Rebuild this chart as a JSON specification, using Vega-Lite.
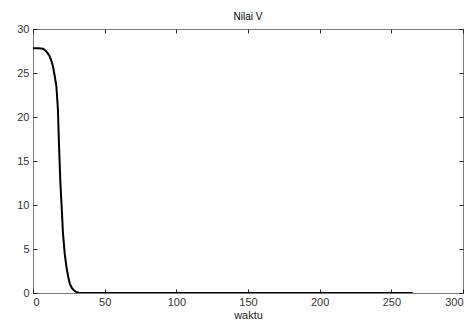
{
  "$schema": "https://vega.github.io/schema/vega-lite/v6.json",
  "width": 430,
  "height": 264,
  "autosize": "none",
  "padding": {"left": 33, "top": 29, "right": 8, "bottom": 27},
  "title": {"text": "Nilai V", "fontSize": 10, "font": "Liberation Sans", "fontWeight": "normal", "color": "#000000", "offset": 1},
  "config": {
    "view": {"stroke": "#7a7a7a", "strokeWidth": 1},
    "axis": {"grid": false, "labelFont": "Liberation Sans", "titleFont": "Liberation Sans", "labelFontSize": 11, "labelColor": "#333333", "domainColor": "#7a7a7a", "tickColor": "#222222", "tickSize": -4, "titleFontWeight": "normal", "titleFontSize": 11, "titleColor": "#222222"}
  },
  "data": {"values": [
    {"t": 0, "v": 27.8}, {"t": 4, "v": 27.8}, {"t": 7, "v": 27.75}, {"t": 9, "v": 27.5},
    {"t": 10.5, "v": 27.2}, {"t": 11.6, "v": 26.9}, {"t": 13, "v": 26.3}, {"t": 14, "v": 25.7},
    {"t": 15, "v": 24.8}, {"t": 16.3, "v": 23.5}, {"t": 16.8, "v": 22.3}, {"t": 17.4, "v": 20.8},
    {"t": 18.1, "v": 17}, {"t": 19.1, "v": 12.5}, {"t": 20, "v": 9.8}, {"t": 20.9, "v": 6.8},
    {"t": 22.1, "v": 4.5}, {"t": 23.3, "v": 3.0}, {"t": 24.5, "v": 1.9}, {"t": 25.6, "v": 1.1},
    {"t": 27, "v": 0.6}, {"t": 28.5, "v": 0.3}, {"t": 30, "v": 0.12}, {"t": 32, "v": 0.03},
    {"t": 35, "v": 0}, {"t": 100, "v": 0}, {"t": 200, "v": 0}, {"t": 265, "v": 0}
  ]},
  "resolve": {"axis": {"x": "independent", "y": "independent"}},
  "layer": [
    {
      "mark": {"type": "line", "color": "#000000", "strokeWidth": 2, "clip": true},
      "encoding": {
        "x": {"field": "t", "type": "quantitative", "scale": {"domain": [0, 300], "nice": false},
          "axis": {"orient": "bottom", "values": [0, 50, 100, 150, 200, 250, 300], "title": "waktu", "labelPadding": 7, "titlePadding": 2, "domain": false}},
        "y": {"field": "v", "type": "quantitative", "scale": {"domain": [0, 30], "nice": false, "zero": false},
          "axis": {"orient": "left", "values": [0, 5, 10, 15, 20, 25, 30], "title": null, "labelPadding": 8, "domain": false}}
      }
    },
    {
      "mark": {"type": "line", "opacity": 0},
      "encoding": {
        "x": {"field": "t", "type": "quantitative", "axis": {"orient": "top", "values": [0, 50, 100, 150, 200, 250, 300], "labels": false, "title": null, "domain": false}},
        "y": {"field": "v", "type": "quantitative", "axis": {"orient": "right", "values": [0, 5, 10, 15, 20, 25, 30], "labels": false, "title": null, "domain": false}}
      }
    }
  ]
}
